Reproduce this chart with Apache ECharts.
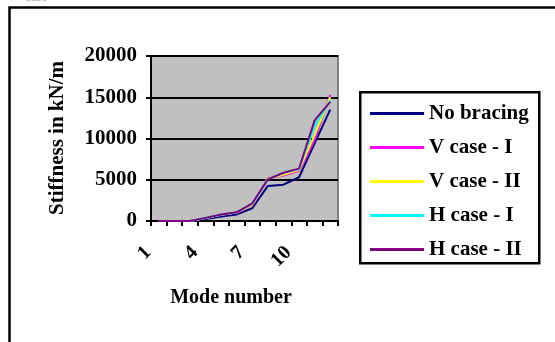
<!DOCTYPE html>
<html>
<head>
<meta charset="utf-8">
<script src="https://cdn.jsdelivr.net/npm/echarts@6/dist/echarts.min.js"></script>
<style>
  html, body { margin: 0; padding: 0; background: #fff; }
  #chart { width: 555px; height: 342px; }
</style>
</head>
<body>
<div id="chart"></div>
<script>
// mode numbers on the x axis
const modes = ['1', '2', '3', '4', '5', '6', '7', '8', '9', '10', '11', '12'];
const yTicks = [0, 5000, 10000, 15000, 20000];

// stiffness values (kN/m)
const noBracing = [0, 0, 0, 250, 550, 800, 1550, 4250, 4400, 5300, 9400, 13500];
const vCase1 = [0, 0, 0, 350, 750, 1000, 1950, 5200, 5500, 6100, 9800, 15300];
const vCase2 = [0, 0, 0, 350, 760, 1020, 2000, 5150, 5600, 6200, 10400, 15000];
const hCase1 = [0, 0, 0, 370, 770, 1040, 2100, 5080, 5800, 6300, 11500, 14600];
const hCase2 = [0, 0, 0, 380, 780, 1050, 2150, 5050, 5850, 6350, 12200, 14450];

const seriesNames = ['No bracing', 'V case - I', 'V case - II', 'H case - I', 'H case - II'];
const seriesColors = ['#000080', '#FF00FF', '#FFFF00', '#00FFFF', '#800080'];
const seriesData = [noBracing, vCase1, vCase2, hCase1, hCase2];

const font = '"Liberation Serif", "Times New Roman", serif';
const fs = 21;

const chart = echarts.init(document.getElementById('chart'));

const option = {
  animation: false,
  backgroundColor: '#fff',
  grid: {
    left: 151, top: 56, right: 217, bottom: 121,
    show: true,
    backgroundColor: '#C0C0C0',
    borderColor: '#808080',
    borderWidth: 2
  },
  xAxis: {
    type: 'category',
    data: modes,
    boundaryGap: true,
    axisLine: { lineStyle: { color: '#000', width: 2 } },
    axisTick: { show: true, interval: 0, length: 5, lineStyle: { color: '#000', width: 2 } },
    axisLabel: {
      interval: 2,
      rotate: 45,
      margin: 18,
      padding: [0, 15, 0, 0],
      color: '#000',
      fontFamily: font,
      fontWeight: 'bold',
      fontSize: 20
    },
    splitLine: { show: false }
  },
  yAxis: {
    type: 'value',
    min: yTicks[0],
    max: yTicks[yTicks.length - 1],
    interval: 5000,
    axisLine: { show: true, lineStyle: { color: '#000', width: 2 } },
    axisTick: { show: true, length: 5, lineStyle: { color: '#000', width: 2 } },
    axisLabel: {
      margin: 14,
      color: '#000',
      fontFamily: font,
      fontWeight: 'bold',
      fontSize: fs,
      formatter: (v) => String(v)
    },
    splitLine: { lineStyle: { color: '#000', width: 2 } }
  },
  legend: {
    orient: 'vertical',
    left: 365,
    top: 98,
    itemWidth: 54,
    itemHeight: 3,
    itemGap: 13,
    icon: 'rect',
    textStyle: { color: '#000', fontFamily: font, fontWeight: 'bold', fontSize: fs },
    data: seriesNames
  },
  graphic: [
    {
      type: 'rect',
      left: 7, top: 5, z: -10,
      shape: { width: 600, height: 400 },
      style: { fill: null, stroke: '#000', lineWidth: 2.5 }
    },
    {
      type: 'rect',
      left: 359, top: 91,
      shape: { width: 179, height: 171 },
      style: { fill: '#fff', stroke: '#000', lineWidth: 2.5 },
      z: -1
    },
    {
      type: 'text',
      x: 58, y: 138,
      rotation: Math.PI / 2,
      style: {
        text: 'Stiffness in kN/m',
        fill: '#000',
        font: 'bold ' + fs + 'px ' + font,
        align: 'center',
        verticalAlign: 'middle'
      }
    },
    {
      type: 'text',
      x: 231, y: 298,
      style: {
        text: 'Mode number',
        fill: '#000',
        font: 'bold 20px ' + font,
        align: 'center',
        verticalAlign: 'middle'
      }
    },
    {
      type: 'text',
      x: 25, y: -9,
      style: { text: 'case', fill: '#aaa', font: '13px ' + font }
    }
  ],
  series: seriesNames.map((name, i) => ({
    name: name,
    type: 'line',
    data: seriesData[i],
    symbol: 'none',
    color: seriesColors[i],
    lineStyle: { color: seriesColors[i], width: 2 }
  }))
};

chart.setOption(option);
</script>
</body>
</html>
